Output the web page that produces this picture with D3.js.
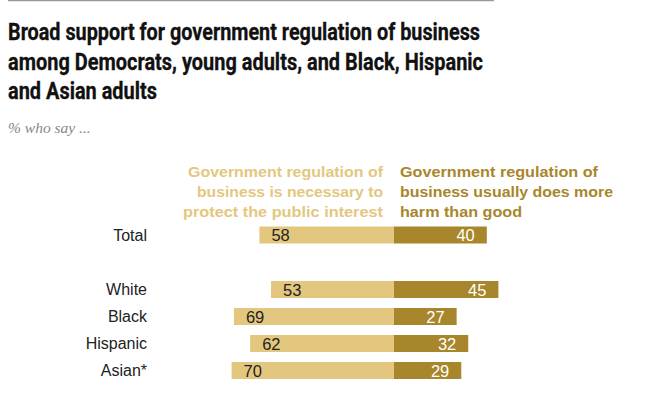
<!DOCTYPE html>
<html>
<head>
<meta charset="utf-8">
<script src="https://cdn.jsdelivr.net/npm/d3@7"></script>
<style>
  body { margin: 0; background: #fff; }
  svg text { font-family: "Liberation Sans", Arial, sans-serif; }
</style>
</head>
<body>
<div id="chart"></div>
<script>
// data
const groups = ["Total", "White", "Black", "Hispanic", "Asian*"];
const necessary = [58, 53, 69, 62, 70];
const harm = [40, 45, 27, 32, 29];

const titleLines = [
  "Broad support for government regulation of business",
  "among Democrats, young adults, and Black, Hispanic",
  "and Asian adults"
];
const leftHead = ["Government regulation of", "business is necessary to", "protect the public interest"];
const rightHead = ["Government regulation of", "business usually does more", "harm than good"];

const width = 663,
  height = 395;

const lightColor = "#e3c77f",
  darkColor = "#a8862b";

const svg = d3
  .select("#chart")
  .append("svg")
  .attr("width", width)
  .attr("height", height);

// top rule
svg
  .append("line")
  .attr("x1", 8)
  .attr("x2", 494)
  .attr("y1", 0.5)
  .attr("y2", 0.5)
  .attr("stroke", "#999")
  .attr("stroke-width", 1.5);

// title (widths fitted to the original condensed face)
const titleWidths = [472, 475, 149];
svg
  .selectAll(".title")
  .data(titleLines)
  .join("text")
  .attr("class", "title")
  .attr("x", 8)
  .attr("y", (d, i) => 40 + i * 29.5)
  .attr("textLength", (d, i) => titleWidths[i])
  .attr("lengthAdjust", "spacingAndGlyphs")
  .style("font-family", "'Liberation Sans Narrow', 'Roboto', sans-serif")
  .style("font-weight", "bold")
  .style("font-size", "23px")
  .style("fill", "#111")
  .style("stroke", "#111")
  .style("stroke-width", 0.3)
  .text((d) => d);

svg
  .append("text")
  .attr("x", 8)
  .attr("y", 133)
  .style("font-family", "'Liberation Serif', Georgia, serif")
  .style("font-style", "italic")
  .style("font-size", "15.5px")
  .style("fill", "#888")
  .text("% who say ...");

// scales
const center = 394;
const x = d3.scaleLinear().domain([0, 100]).range([0, 232]);

const rowY = d3
  .scalePoint()
  .domain(groups.slice(1))
  .range([289.5, 370.5]);
const yPos = (g) => (g === "Total" ? 235 : rowY(g));
const barH = 17;

const rows = groups.map((g, i) => ({ g, left: necessary[i], right: harm[i] }));

// column headers
const leftW = [195, 186, 200];
const rightW = [198, 213, 122];
svg
  .selectAll(".lhead")
  .data(leftHead)
  .join("text")
  .attr("class", "lhead")
  .attr("x", center - 11)
  .attr("y", (d, i) => 177 + i * 20)
  .attr("text-anchor", "end")
  .attr("textLength", (d, i) => leftW[i])
  .attr("lengthAdjust", "spacingAndGlyphs")
  .style("font-weight", "bold")
  .style("font-size", "15.5px")
  .style("fill", lightColor)
  .text((d) => d);

svg
  .selectAll(".rhead")
  .data(rightHead)
  .join("text")
  .attr("class", "rhead")
  .attr("x", center + 6)
  .attr("y", (d, i) => 177 + i * 20)
  .attr("textLength", (d, i) => rightW[i])
  .attr("lengthAdjust", "spacingAndGlyphs")
  .style("font-weight", "bold")
  .style("font-size", "15.5px")
  .style("fill", darkColor)
  .text((d) => d);

// row labels
svg
  .selectAll(".glabel")
  .data(rows)
  .join("text")
  .attr("class", "glabel")
  .attr("x", 147)
  .attr("y", (d) => yPos(d.g) + 5.5)
  .attr("text-anchor", "end")
  .style("font-size", "16px")
  .style("fill", "#222")
  .text((d) => d.g);

// bars
svg
  .selectAll(".lbar")
  .data(rows)
  .join("rect")
  .attr("class", "lbar")
  .attr("x", (d) => center - x(d.left))
  .attr("y", (d) => yPos(d.g) - barH / 2)
  .attr("width", (d) => x(d.left))
  .attr("height", barH)
  .style("fill", lightColor);

svg
  .selectAll(".rbar")
  .data(rows)
  .join("rect")
  .attr("class", "rbar")
  .attr("x", center)
  .attr("y", (d) => yPos(d.g) - barH / 2)
  .attr("width", (d) => x(d.right))
  .attr("height", barH)
  .style("fill", darkColor);

// values
svg
  .selectAll(".lval")
  .data(rows)
  .join("text")
  .attr("class", "lval")
  .attr("x", (d) => center - x(d.left) + 12)
  .attr("y", (d) => yPos(d.g) + 6)
  .style("font-size", "16.5px")
  .style("fill", "#222")
  .text((d) => d.left);

svg
  .selectAll(".rval")
  .data(rows)
  .join("text")
  .attr("class", "rval")
  .attr("x", (d) => center + x(d.right) - 12)
  .attr("y", (d) => yPos(d.g) + 6)
  .attr("text-anchor", "end")
  .style("font-size", "16.5px")
  .style("fill", "#fff")
  .text((d) => d.right);
</script>
</body>
</html>
